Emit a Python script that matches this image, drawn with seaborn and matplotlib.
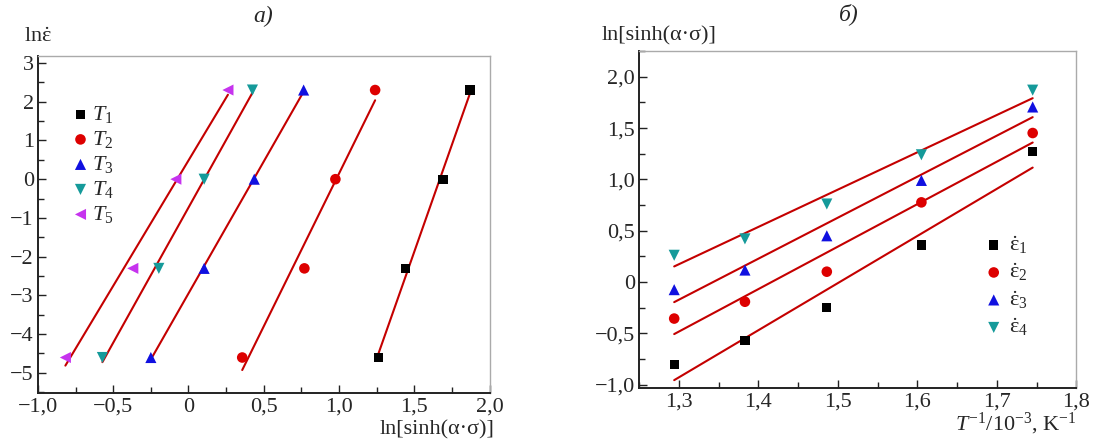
import numpy as np
import pandas as pd
import matplotlib
matplotlib.use("Agg")
import matplotlib.pyplot as plt
import seaborn as sns
from matplotlib.ticker import FixedLocator, MultipleLocator

# ---------------- data ----------------
# panel a: ln(strain rate) vs ln[sinh(alpha*sigma)]
ln_rate = [-4.605, -2.303, 0.0, 2.303]
a_T1 = [1.262, 1.44, 1.69, 1.87]
a_T2 = [0.357, 0.77, 0.976, 1.24]
a_T3 = [-0.25, 0.104, 0.437, 0.765]
a_T4 = [-0.572, -0.197, 0.104, 0.425]
a_T5 = [-0.818, -0.37, -0.084, 0.262]
a_labels = [r"$T_1$", r"$T_2$", r"$T_3$", r"$T_4$", r"$T_5$"]

# panel b: ln[sinh(alpha*sigma)] vs 1/T
inv_T = [1.294, 1.383, 1.486, 1.605, 1.745]
b_e1 = [-0.806, -0.57, -0.248, 0.36, 1.27]
b_e2 = [-0.357, -0.193, 0.10, 0.776, 1.452]
b_e3 = [-0.075, 0.116, 0.45, 0.99, 1.706]
b_e4 = [0.26, 0.42, 0.76, 1.24, 1.87]
b_labels = [r"$\dot{\mathrm{\varepsilon}}_1$", r"$\dot{\mathrm{\varepsilon}}_2$",
            r"$\dot{\mathrm{\varepsilon}}_3$", r"$\dot{\mathrm{\varepsilon}}_4$"]

a_xticks = [-1.0, -0.5, 0.0, 0.5, 1.0, 1.5, 2.0]
a_xticklabels = ["\u22121,0", "\u22120,5", "0", "0,5", "1,0", "1,5", "2,0"]
a_yticks = [-5, -4, -3, -2, -1, 0, 1, 2, 3]
a_yticklabels = ["\u22125", "\u22124", "\u22123", "\u22122", "\u22121", "0", "1", "2", "3"]
b_xticks = [1.3, 1.4, 1.5, 1.6, 1.7, 1.8]
b_xticklabels = ["1,3", "1,4", "1,5", "1,6", "1,7", "1,8"]
b_yticks = [-1.0, -0.5, 0.0, 0.5, 1.0, 1.5, 2.0]
b_yticklabels = ["\u22121,0", "\u22120,5", "0", "0,5", "1,0", "1,5", "2,0"]

# ---------------- style ----------------
sns.set_theme(style="white")
plt.rcParams["font.family"] = ["Liberation Serif", "DejaVu Serif"]
plt.rcParams["mathtext.fontset"] = "custom"
plt.rcParams["mathtext.rm"] = "Liberation Serif"
plt.rcParams["mathtext.it"] = "Liberation Serif:italic"
plt.rcParams["mathtext.bf"] = "Liberation Serif:bold"

colors = ["#000000", "#dd0000", "#1010e0", "#159a9a", "#c633ee"]
markers = ["s", "o", "^", "v", "<"]
sizes = [45, 58, 64, 64, 64]
line_color = "#c40000"

fig = plt.figure(figsize=(11.04, 4.45), dpi=100)
axA = fig.add_axes([0.0344, 0.117, 0.409, 0.757])
axB = fig.add_axes([0.579, 0.129, 0.396, 0.756])

FS = 16


def style_axes(ax):
    for side in ["left", "bottom"]:
        ax.spines[side].set_color("#222222")
        ax.spines[side].set_linewidth(1.4)
    for side in ["top", "right"]:
        ax.spines[side].set_color("#aaaaaa")
        ax.spines[side].set_linewidth(1.0)
    ax.tick_params(which="both", direction="in", left=True, bottom=True,
                   color="#222222", labelsize=FS)
    ax.tick_params(which="major", length=6, width=1.0)
    ax.tick_params(which="minor", length=4, width=1.0)
    ax.tick_params(axis="y", pad=3)
    ax.grid(False)


# ---- panel a ----
a_series = [a_T1, a_T2, a_T3, a_T4, a_T5]
for xs, c, m, s, lab in zip(a_series, colors, markers, sizes, a_labels):
    sns.regplot(x=xs, y=ln_rate, ax=axA, scatter=False, ci=None,
                line_kws=dict(color=line_color, lw=1.5))
    sns.scatterplot(x=xs, y=ln_rate, ax=axA, color=c, marker=m, s=s,
                    edgecolor="none", label=lab, zorder=3)
axA.set_xlim(-1.0, 2.0)
axA.set_ylim(-5.52, 3.18)
axA.xaxis.set_major_locator(FixedLocator(a_xticks))
axA.set_xticklabels(a_xticklabels)
axA.yaxis.set_major_locator(FixedLocator(a_yticks))
axA.set_yticklabels(a_yticklabels)
axA.xaxis.set_minor_locator(MultipleLocator(0.25))
axA.yaxis.set_minor_locator(MultipleLocator(0.5))
style_axes(axA)
axA.set_xlabel("")
axA.set_ylabel("")
axA.text(1.01, -0.11, "ln[sinh(\u03b1\u00b7\u03c3)]", transform=axA.transAxes,
         ha="right", va="center", fontsize=FS)
axA.text(0.0, 1.056, r"ln$\dot{\mathrm{\varepsilon}}$", transform=axA.transAxes,
         ha="center", va="center", fontsize=FS)
axA.legend(loc="upper left", bbox_to_anchor=(0.04, 0.89), frameon=False,
           fontsize=FS, handletextpad=-0.1, labelspacing=0.18, borderpad=0,
           handlelength=1.2, markerscale=1.0)

# ---- panel b ----
b_series = [b_e1, b_e2, b_e3, b_e4]
for ys, c, m, s, lab in zip(b_series, colors[:4], markers[:4], sizes[:4], b_labels):
    sns.regplot(x=inv_T, y=ys, ax=axB, scatter=False, ci=None,
                line_kws=dict(color=line_color, lw=1.5))
    sns.scatterplot(x=inv_T, y=ys, ax=axB, color=c, marker=m, s=s,
                    edgecolor="none", label=lab, zorder=3)
axB.set_xlim(1.25, 1.8)
axB.set_ylim(-1.03, 2.25)
axB.xaxis.set_major_locator(FixedLocator(b_xticks))
axB.set_xticklabels(b_xticklabels)
axB.yaxis.set_major_locator(FixedLocator(b_yticks))
axB.set_yticklabels(b_yticklabels)
axB.xaxis.set_minor_locator(MultipleLocator(0.05))
axB.yaxis.set_minor_locator(MultipleLocator(0.25))
style_axes(axB)
axB.set_xlabel("")
axB.set_ylabel("")
axB.text(1.0, -0.108, r"$T^{-1}$/10$^{-3}$, K$^{-1}$", transform=axB.transAxes,
         ha="right", va="center", fontsize=FS)
axB.text(0.045, 1.047, "ln[sinh(\u03b1\u00b7\u03c3)]", transform=axB.transAxes,
         ha="center", va="center", fontsize=FS)
axB.legend(loc="upper left", bbox_to_anchor=(0.755, 0.49), frameon=False,
           fontsize=FS, handletextpad=0.1, labelspacing=0.25, borderpad=0,
           handlelength=1.2)

fig.text(263 / 1104, 1 - 16 / 445, "\u0430)", ha="center", va="center",
         fontsize=FS + 1, style="italic")
fig.text(849 / 1104, 1 - 14 / 445, "\u0431)", ha="center", va="center",
         fontsize=FS + 1, style="italic")

fig.savefig("out.png", dpi=100)
